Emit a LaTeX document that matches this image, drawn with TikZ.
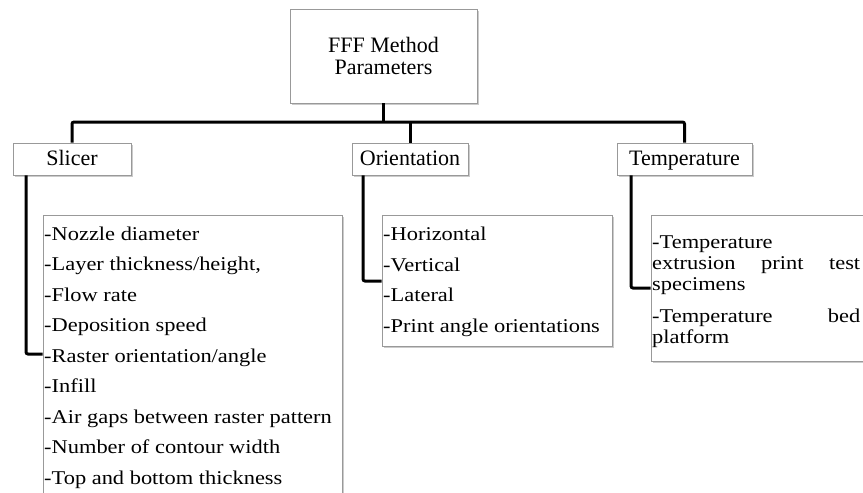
\documentclass[tikz,border=0pt]{standalone}
\usepackage{fontspec}
\setmainfont{Liberation Serif}
\newfontfamily\kidfont[FakeStretch=1.15]{Liberation Serif}
\usetikzlibrary{shadows}
\tikzset{
  box/.style={draw=black!40, line width=0.8pt, fill=white, inner sep=0pt,
    drop shadow={shadow xshift=1.5pt, shadow yshift=-2pt, fill=black!45, opacity=0.45}},
  lbl/.style={box, font=\fontsize{22pt}{22pt}\selectfont, align=center},
  onelbl/.style={lbl, text height=16pt, text depth=4pt, minimum height=32pt},
  kidtext/.style={anchor=north west, inner sep=0pt, align=left},
  conn/.style={line width=3pt, black, rounded corners=2pt}
}
\begin{document}
\begin{tikzpicture}[x=1pt, y=-1pt]
\useasboundingbox (0,0) rectangle (863,493);
\begin{scope}
\clip (0,0) rectangle (863,493);
% top nodes
\node[lbl, minimum width=187pt, minimum height=94pt] (root) at (383.5,56) {FFF Method\\Parameters};
\node[onelbl, minimum width=118pt] (sl) at (72,159) {Slicer};
\node[onelbl, minimum width=116pt] (or) at (410,159) {Orientation};
\node[onelbl, minimum width=135pt] (tp) at (684.5,159) {Temperature};
% child boxes
\node[box, minimum width=299pt, minimum height=290pt] (slbox) at (192.5,360) {};
\node[box, minimum width=230pt, minimum height=131pt] (orbox) at (497,280.5) {};
\node[box, minimum width=229pt, minimum height=146pt] (tpbox) at (765.5,288) {};
% child texts
\node[kidtext, font=\kidfont\fontsize{19.5pt}{30.5pt}\selectfont] (sltext) at (44,225) {\rule{0pt}{15pt}-Nozzle diameter\\
-Layer thickness/height,\\
-Flow rate\\
-Deposition speed\\
-Raster orientation/angle\\
-Infill\\
-Air gaps between raster pattern\\
-Number of contour width\\
-Top and bottom thickness};
\node[kidtext, font=\kidfont\fontsize{19.5pt}{30.8pt}\selectfont] (ortext) at (383,225) {\rule{0pt}{15pt}-Horizontal\\
-Vertical\\
-Lateral\\
-Print angle orientations};
\node[kidtext, text width=208pt, font=\kidfont\fontsize{19.5pt}{21.3pt}\selectfont] (tptext) at (652,233) {\rule{0pt}{15pt}-Temperature\\
extrusion\hfill print\hfill test\\
specimens\\[10.5pt]
-Temperature\hfill bed\\
platform};
% connectors
\coordinate (bl) at (72,122);
\coordinate (br) at (684.5,122);
\draw[conn] (sl.north) -- (bl) -- (br) -- (tp.north);
\draw[conn, rounded corners=0pt] (root.south) -- (root.south |- bl);
\draw[conn, rounded corners=0pt] (or.north |- bl) -- (or.north);
\coordinate (slk) at (26,354);
\coordinate (ork) at (363,281);
\coordinate (tpk) at (631,288);
\draw[conn] (sl.south -| slk) -- (slk) -- (slk -| slbox.west);
\draw[conn] (or.south -| ork) -- (ork) -- (ork -| orbox.west);
\draw[conn] (tp.south -| tpk) -- (tpk) -- (tpk -| tpbox.west);
\end{scope}
\end{tikzpicture}
\end{document}
